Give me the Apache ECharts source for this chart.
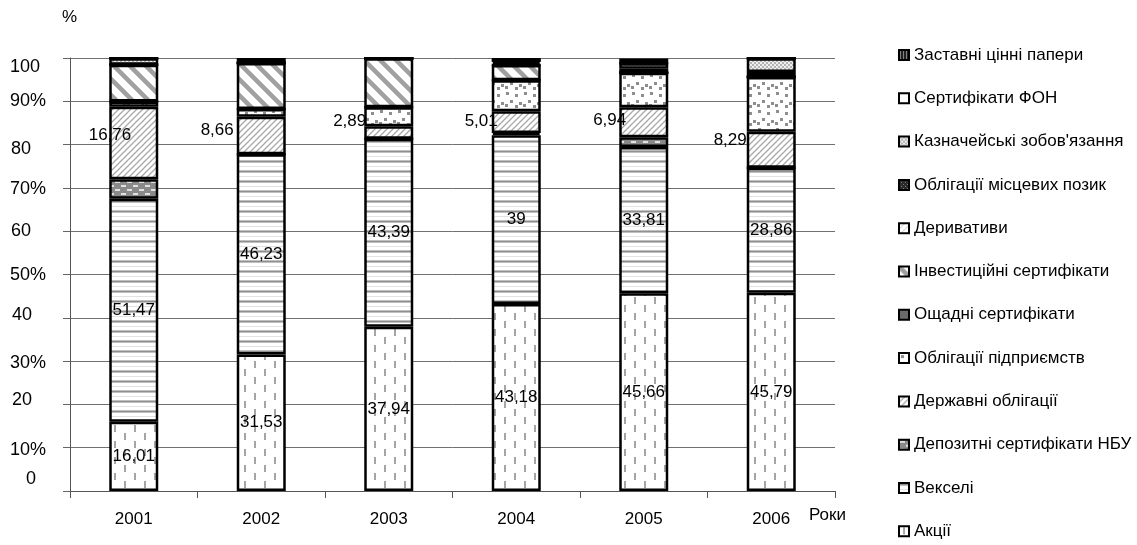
<!DOCTYPE html>
<html><head><meta charset="utf-8">
<script src="https://cdn.jsdelivr.net/npm/echarts@6/dist/echarts.min.js"></script>
<style>html,body{margin:0;padding:0;background:#fff}#c{width:1137px;height:545px}</style>
</head><body><div id="c"></div><script>
// ---- data ----
const years = ['2001', '2002', '2003', '2004', '2005', '2006'];
const yTickLabels = ['0', '10%', '20', '30%', '40', '50%', '60', '70%', '80', '90%', '100'];
const seriesNames = ['Акції', 'Векселі', 'Депозитні сертифікати НБУ', 'Державні облігації',
  'Облігації підприємств', 'Ощадні сертифікати', 'Інвестиційні сертифікати', 'Деривативи',
  'Облігації місцевих позик', "Казначейські зобов'язання", 'Сертифікати ФОН', 'Заставні цінні папери'];
const aktsii        = [16.01, 31.53, 37.94, 43.18, 45.66, 45.79];
const vekseli       = [51.47, 46.23, 43.39, 39, 33.81, 28.86];
const depozytni     = [4.5, 0, 0, 0.5, 2.2, 0];
const derzhavni     = [16.76, 8.66, 2.89, 5.01, 6.94, 8.29];
const pidpryiemstv  = [1.2, 1.8, 4.4, 7.2, 8.0, 12.7];
const oshchadni     = [0, 0, 0, 0, 0, 0];
const investytsiini = [8.5, 10.6, 11.3, 3.5, 0, 0];
const deryvatyvy    = [0, 0, 0, 0, 0, 0];
const mistsevykh    = [0, 0, 0, 0.5, 0.9, 1.1];
const kaznacheiski  = [1.5, 0, 0, 0.5, 1.3, 3.2];
const fon           = [0, 0, 0, 0, 0, 0];
const zastavni      = [0, 1.2, 0, 0.6, 1.1, 0];
const values = [aktsii, vekseli, depozytni, derzhavni, pidpryiemstv, oshchadni,
  investytsiini, deryvatyvy, mistsevykh, kaznacheiski, fon, zastavni];

// ---- styles ----
const FONT = "'Liberation Sans', Arial, sans-serif";
function pat(w, h, bg, draw) {
  const c = document.createElement('canvas'); c.width = w; c.height = h;
  const g = c.getContext('2d'); g.fillStyle = bg; g.fillRect(0, 0, w, h); draw(g);
  return { image: c, repeat: 'repeat' };
}
const patterns = [
  pat(20, 16, '#fff', g => { g.fillStyle = '#a5a5a5'; g.fillRect(4, 1, 2, 7); g.fillRect(14, 9, 2, 7); }),
  pat(4, 10, '#fff', g => { g.fillStyle = '#c0c0c0'; g.fillRect(0, 0, 4, 1); g.fillRect(0, 2, 4, 1);
    g.fillStyle = '#909090'; g.fillRect(0, 1, 4, 1); g.fillStyle = '#e2e2e2'; g.fillRect(0, 6, 4, 1); }),
  pat(12, 8, '#8a8a8a', g => { g.fillStyle = '#e2e2e2'; g.fillRect(1, 1, 5, 2); g.fillRect(7, 5, 5, 2); }),
  pat(6, 6, '#fff', g => { g.strokeStyle = '#a8a8a8'; g.lineWidth = 1.3; g.beginPath();
    g.moveTo(0, 6); g.lineTo(6, 0); g.moveTo(-1, 1); g.lineTo(1, -1); g.moveTo(5, 7); g.lineTo(7, 5); g.stroke(); }),
  pat(18, 18, '#fff', g => { g.fillStyle = '#8e8e8e';
    [[2, 2], [11, 4], [6, 10], [15, 12], [1, 14], [11, 15]].forEach(p => g.fillRect(p[0], p[1], 3, 3)); }),
  pat(4, 4, '#6a6a6a', g => {}),
  pat(16, 16, '#fff', g => { g.strokeStyle = '#a0a0a0'; g.lineWidth = 4.5; g.beginPath();
    g.moveTo(-2, -2); g.lineTo(18, 18); g.moveTo(-10, 6); g.lineTo(10, 26); g.moveTo(6, -10); g.lineTo(26, 10); g.stroke(); }),
  pat(6, 6, '#fff', g => { g.strokeStyle = '#c8c8c8'; g.lineWidth = 1; g.beginPath(); g.moveTo(0, 6); g.lineTo(6, 0); g.stroke(); }),
  pat(4, 4, '#2a2a2a', g => { g.fillStyle = '#7a7a7a'; g.fillRect(0, 0, 1, 1); g.fillRect(2, 2, 1, 1); }),
  pat(4, 4, '#eeeeee', g => { g.fillStyle = '#b4b4b4'; g.fillRect(0, 0, 2, 2); g.fillRect(2, 2, 2, 2); }),
  pat(4, 4, '#fff', g => {}),
  pat(3, 3, '#222', g => { g.fillStyle = '#808080'; g.fillRect(1, 0, 1, 3); })
];
const labelShift = [[22, -8], [-3, -5], [2, -11], [6, -1], [7, -2], [0, -10]];
const yLabelShift = [-11.5, 2, -4.5, 1.5, -2.5, 1, 0, 1.5, 4, 0, 9];
const yLabelShiftX = [16, 0, 2, 0, 2, 0, 1, 0, 1, 0, -3];
const fmt = p => String(p.value).replace('.', ',');

const yRich = {};
yLabelShift.forEach((s, i) => {
  const px = Math.max(0, yLabelShiftX[i]);
  yRich['t' + i] = { fontSize: 18, fontFamily: FONT, color: '#000',
    padding: s >= 0 ? [2 * s, 0, 0, px] : [0, 0, -2 * s, px] };
});

const series = seriesNames.map((name, k) => {
  const s = {
    name, type: 'bar', stack: 'total', barWidth: 49,
    itemStyle: { color: patterns[k], borderColor: '#000', borderWidth: 2.5 },
    emphasis: { disabled: true },
    data: values[k].slice(),
    label: { show: false }
  };
  if (k === 0 || k === 1) {
    s.label = { show: true, position: 'inside', formatter: fmt, color: '#000',
      fontSize: 17, fontFamily: FONT };
  }
  if (k === 3) {
    s.data = values[k].map((v, i) => ({ value: v, label: { offset: labelShift[i] } }));
    s.label = { show: true, position: 'left', distance: 0, formatter: fmt, color: '#000',
      fontSize: 17, fontFamily: FONT };
  }
  return s;
});

const chart = echarts.init(document.getElementById('c'), null, { renderer: 'canvas' });
chart.setOption({
  animation: false,
  backgroundColor: '#fff',
  grid: { left: 70, right: 302, top: 58, bottom: 54, containLabel: false },
  xAxis: {
    type: 'category', data: years,
    axisLine: { show: true, lineStyle: { color: '#555', width: 1 } },
    axisTick: { show: true, length: 7, lineStyle: { color: '#555' } },
    axisLabel: { margin: 20, fontSize: 17, color: '#000', fontFamily: FONT },
    splitLine: { show: false }
  },
  yAxis: {
    type: 'value', min: 0, max: 100, interval: 10,
    axisLine: { show: true, lineStyle: { color: '#555', width: 1 } },
    axisTick: { show: true, length: 7, lineStyle: { color: '#666' } },
    splitLine: { show: true, lineStyle: { color: '#707070', width: 1 } },
    axisLabel: { align: 'left', margin: 60, fontSize: 18, color: '#000', fontFamily: FONT,
      formatter: v => { const i = Math.round(v / 10); return '{t' + i + '|' + yTickLabels[i] + '}'; },
      rich: yRich }
  },
  legend: {
    orient: 'vertical', left: 898, top: 46, padding: 0,
    data: seriesNames.slice().reverse(),
    itemWidth: 10, itemHeight: 10, itemGap: 25.3,
    icon: 'rect',
    itemStyle: { borderColor: '#000', borderWidth: 2 },
    textStyle: { fontSize: 17, lineHeight: 18, color: '#000', fontFamily: FONT },
    selectedMode: false
  },
  graphic: [
    { type: 'text', left: 62, top: 9, style: { text: '%', fontSize: 17, fontFamily: FONT, fill: '#000' } },
    { type: 'text', left: 809, top: 507, style: { text: 'Роки', fontSize: 17, fontFamily: FONT, fill: '#000' } }
  ],
  series
});
</script></body></html>
